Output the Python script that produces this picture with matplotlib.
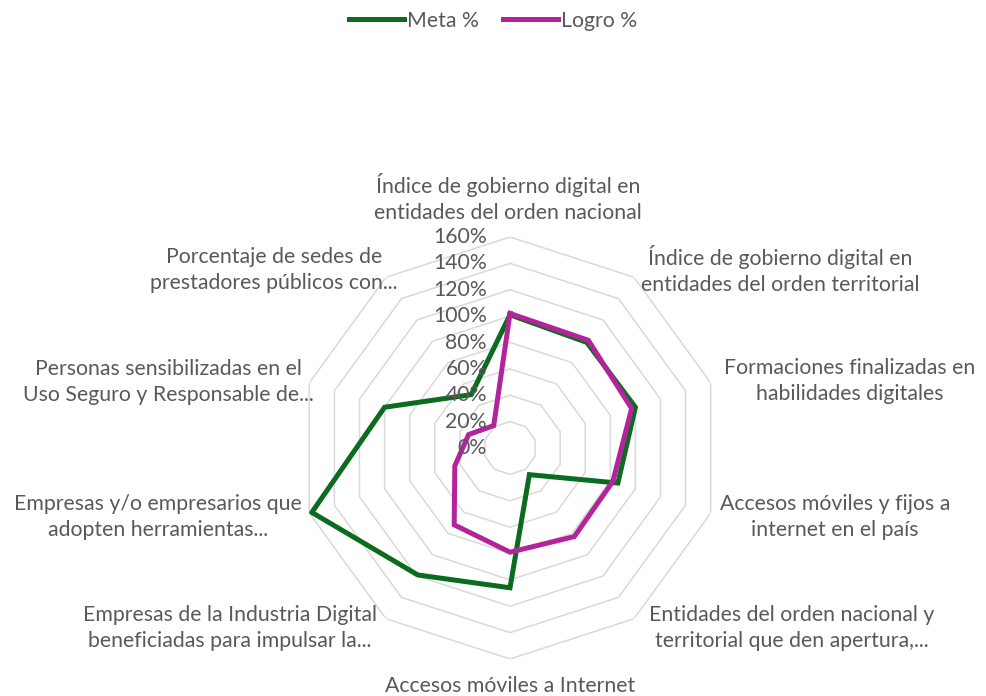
import numpy as np
import matplotlib
matplotlib.use("Agg")
import matplotlib.pyplot as plt

plt.rcParams['font.family'] = ['Lato', 'DejaVu Sans']

categorias = [
    "Índice de gobierno digital en\nentidades del orden nacional",
    "Índice de gobierno digital en\nentidades del orden territorial",
    "Formaciones finalizadas en\nhabilidades digitales",
    "Accesos móviles y fijos a\ninternet en el país",
    "Entidades del orden nacional y\nterritorial que den apertura,...",
    "Accesos móviles a Internet",
    "Empresas de la Industria Digital\nbeneficiadas para impulsar la...",
    "Empresas y/o empresarios que\nadopten herramientas...",
    "Personas sensibilizadas en el\nUso Seguro y Responsable de...",
    "Porcentaje de sedes de\nprestadores públicos con...",
]
meta = [101, 99, 100, 86, 25, 106, 119, 158, 100, 50]
logro = [102, 101, 97, 82, 83, 79, 72, 44, 33, 21]
ticks = [0, 20, 40, 60, 80, 100, 120, 140, 160]

# centro de cada etiqueta en pixeles
pos_etiquetas = [
    (508, 198), (780, 270), (850, 381), (835, 517), (792, 628),
    (510, 686), (230, 628), (158, 517), (168, 382), (274, 270),
]

GRIS = "#595959"
VERDE = "#0b6b1f"
MAGENTA = "#b3239b"
FS = 15.3

W, H = 986, 696
fig = plt.figure(figsize=(W / 100, H / 100), dpi=100)

cx, cy, rad = 510, 448, 211
ax = fig.add_axes([(cx - rad) / W, (H - cy - rad) / H, 2 * rad / W, 2 * rad / H],
                  projection='polar')
ax.set_theta_zero_location('N')
ax.set_theta_direction(-1)
ax.set_ylim(0, 160)
ax.grid(False)
ax.set_xticks([])
ax.set_yticks([])
ax.spines['polar'].set_visible(False)
ax.patch.set_alpha(0)

n = len(categorias)
ang = np.linspace(0, 2 * np.pi, n, endpoint=False)
ang_c = np.append(ang, ang[0])

# rejilla poligonal
for t in ticks[1:]:
    ax.plot(ang_c, [t] * (n + 1), color="#d9d9d9", lw=1.1, zorder=1)

l1, = ax.plot(ang_c, meta + meta[:1], color=VERDE, lw=3.6, zorder=3,
              solid_joinstyle='miter', label="Meta %")
l2, = ax.plot(ang_c, logro + logro[:1], color=MAGENTA, lw=3.6, zorder=4,
              solid_joinstyle='miter', label="Logro %")

for t in ticks:
    ax.annotate(f"{t}%", xy=(0, t), xytext=(-23, 0), textcoords='offset pixels',
                ha='right', va='center', fontsize=FS, color=GRIS, zorder=5)

for lab, (x, y) in zip(categorias, pos_etiquetas):
    fig.text(x / W, 1 - y / H, lab, ha='center', va='center', fontsize=FS,
             color=GRIS, linespacing=1.35, multialignment='center')

fig.legend(handles=[l1, l2], loc='upper center', bbox_to_anchor=(0.5, 1.012),
           ncol=2, frameon=False, fontsize=FS, labelcolor=GRIS,
           handlelength=2.6, handletextpad=0.15, columnspacing=1.1)

fig.savefig("out.png", dpi=100)
